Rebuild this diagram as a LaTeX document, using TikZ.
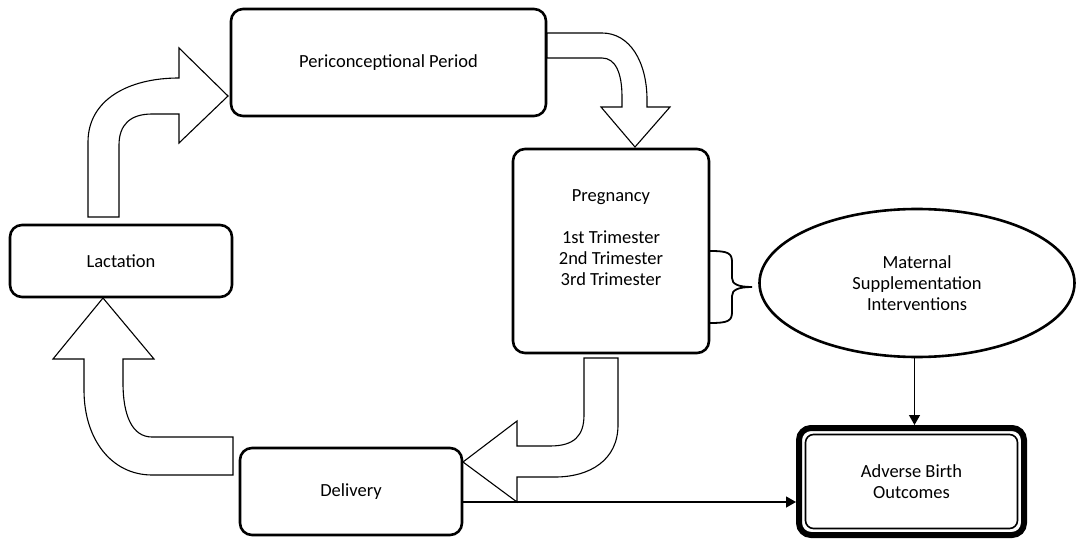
\documentclass[tikz,border=0pt]{standalone}
\usepackage{fontspec}
\setmainfont{Carlito}
\usetikzlibrary{shapes.geometric,arrows.meta}
\tikzset{
  box/.style={draw, line width=2.6pt, rounded corners=12pt, align=center, inner sep=0pt},
  oval/.style={draw, ellipse, line width=2.6pt, align=center, inner sep=0pt},
  blockarrow/.style={draw, line width=1.1pt, fill=white, line join=miter},
  conn/.style={line width=1.3pt, -{Triangle[length=10pt,width=11pt]}},
  bracestyle/.style={line width=1.8pt},
}
\begin{document}
\begin{tikzpicture}[x=1pt,y=-1pt,font=\fontsize{18.5}{20.8}\selectfont]
\useasboundingbox (0,0) rectangle (1076,540);
% boxes
\node[box, minimum width=315pt, minimum height=107pt] (pericon) at (388.5,62.5) {Periconceptional Period};
\node[box, minimum width=196pt, minimum height=204pt] (preg) at (611,251) {Pregnancy\\ \strut\\1st Trimester\\2nd Trimester\\3rd Trimester\\ \strut};
\node[box, minimum width=222pt, minimum height=72pt] (lact) at (121,261) {Lactation};
\node[box, minimum width=222pt, minimum height=87pt] (deliv) at (351,491.5) {Delivery};
\node[oval, minimum width=315pt, minimum height=148pt] (msi) at (917,283) {Maternal\\Supplementation\\Interventions};
\node[box, line width=6pt, minimum width=225pt, minimum height=107pt] (abo) at (911.5,481.5) {Adverse Birth\\Outcomes};
\draw[line width=1.6pt, rounded corners=8pt] ([shift={(9.5,9.5)}]abo.north west) rectangle ([shift={(-9.5,-9.5)}]abo.south east);
% block arrows
% Lactation -> Periconceptional
\draw[blockarrow] (88,217) -- (88,142) .. controls (88,100) and (128,78) .. (179,78) -- (179,48) -- (228,96) -- (179,143) -- (179,114) -- (152,114) .. controls (130,114) and (119,125) .. (119,145) -- (119,217) -- cycle;
% Periconceptional -> Pregnancy
\draw[blockarrow] (547,33) -- (602,33) .. controls (630,33) and (647,62) .. (647,100) -- (647,107) -- (670,107) -- (635,147) -- (601,107) -- (622,107) -- (622,97) .. controls (622,72) and (615,58) .. (602,58) -- (547,58) -- cycle;
% Pregnancy -> Delivery
\draw[blockarrow] (584,358) -- (618,358) -- (618,425) .. controls (618,460) and (590,477) .. (555,477) -- (517,477) -- (517,502) -- (463,462) -- (517,421) -- (517,446) -- (550,446) .. controls (574,446) and (584,436) .. (584,415) -- cycle;
% Delivery -> Lactation
\draw[blockarrow] (233,437) -- (152,437) .. controls (132,437) and (123,415) .. (123,383) -- (123,359) -- (154,359) -- (103,298) -- (53,359) -- (84,359) -- (84,390) .. controls (84,440) and (112,475) .. (152,475) -- (233,475) -- cycle;
% brace
\draw[bracestyle] (710,251) .. controls (728,251) and (732,253) .. (732,262) -- (732,278) .. controls (732,284) and (738,287) .. (752,287) .. controls (738,287) and (732,290) .. (732,296) -- (732,312) .. controls (732,321) and (728,323) .. (710,323);
% connectors
\draw[conn] (msi.south -| abo.north) ++(3,0) coordinate (msiout) -- (msiout |- abo.north);
\draw[conn] ([yshift=-10.5pt]deliv.east) -- ([yshift=-10.5pt]deliv.east -| abo.west);
\end{tikzpicture}
\end{document}
